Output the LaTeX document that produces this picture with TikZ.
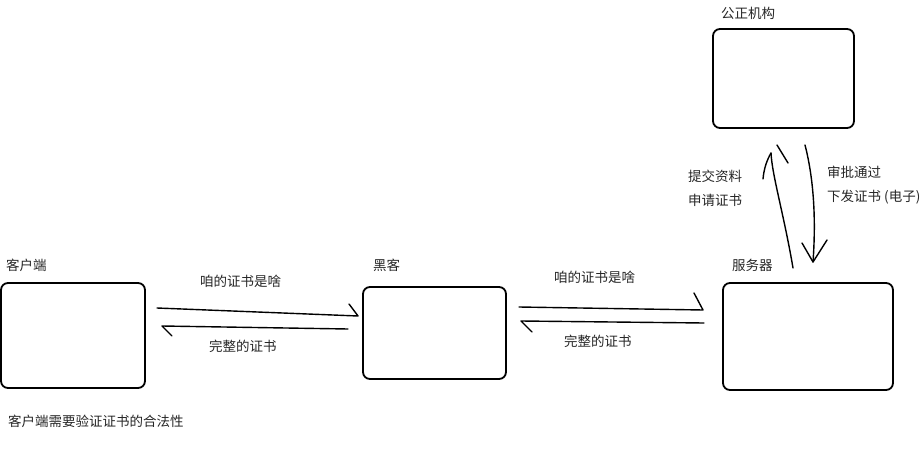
\documentclass[tikz,border=0pt]{standalone}
\usepackage{fontspec}
\setmainfont{Noto Sans CJK SC}
\begin{document}
\begin{tikzpicture}[x=1pt,y=-1pt,
  box/.style={draw=black,line width=1.8pt,rounded corners=7pt,inner sep=0pt},
  lbl/.style={anchor=west,inner sep=0pt,font=\fontsize{13.5pt}{16pt}\selectfont,text=black!85},
  pen/.style={draw=black,line width=1.4pt,line cap=round,line join=round}]
\useasboundingbox (0,0) rectangle (920,449);
% boxes
\node[box,minimum width=144pt,minimum height=105pt] (client) at (73,335.5) {};
\node[box,minimum width=143pt,minimum height=92pt] (hacker) at (434.5,333) {};
\node[box,minimum width=170pt,minimum height=107pt] (server) at (808,336.5) {};
\node[box,minimum width=141pt,minimum height=99pt] (notary) at (783.5,78.5) {};
% titles
\node[lbl] (tclient) at (6,265) {客户端};
\node[lbl] (thacker) at (373,265) {黑客};
\node[lbl] (tserver) at (732,265) {服务器};
\node[lbl] (tnotary) at (721,13) {公正机构};
% message labels
\node[lbl] (m1) at (200,281) {咱的证书是啥};
\node[lbl] (m2) at (209,346) {完整的证书};
\node[lbl] (m3) at (554,277) {咱的证书是啥};
\node[lbl] (m4) at (564,341) {完整的证书};
\node[lbl] (m5) at (688,176) {提交资料};
\node[lbl] (m6) at (688,200) {申请证书};
\node[lbl] (m7) at (827,172) {审批通过};
\node[lbl] (m8) at (827,197) {下发证书 (电子)};
\node[lbl] (note) at (8,421) {客户端需要验证证书的合法性};
% connector end points
\coordinate (a1s) at (157,308); \coordinate (a1e) at (358,316); \coordinate (a1h) at (349,304);
\coordinate (a2s) at (348,329); \coordinate (a2e) at (162,326); \coordinate (a2h) at (172,336);
\coordinate (a3s) at (519,307); \coordinate (a3e) at (703,310); \coordinate (a3h) at (694,293);
\coordinate (a4s) at (704,323); \coordinate (a4e) at (521,321); \coordinate (a4h) at (532,332);
\coordinate (a5s) at (793,268); \coordinate (a5e) at (771,153);
\coordinate (a5h) at (763,179); \coordinate (a5t1) at (777,145); \coordinate (a5t2) at (788,163);
\coordinate (a6s) at (805,145); \coordinate (a6e) at (813,262);
\coordinate (a6h1) at (802,243); \coordinate (a6h2) at (827,240);
% client -> hacker
\draw[pen] (a1s) -- (a1e) -- (a1h);
% hacker -> client
\draw[pen] (a2s) -- (a2e) -- (a2h);
% hacker -> server
\draw[pen] (a3s) -- (a3e) -- (a3h);
% server -> hacker
\draw[pen] (a4s) -- (a4e) -- (a4h);
% server -> notary
\draw[pen] (a5s) .. controls (784,215) and (772,175) .. (a5e);
\draw[pen] (a5h) .. controls (764,168) and (767,160) .. (a5e);
\draw[pen] (a5t1) -- (a5t2);
% notary -> server
\draw[pen] (a6s) .. controls (814,180) and (816,220) .. (a6e);
\draw[pen] (a6h1) -- (a6e) -- (a6h2);
\end{tikzpicture}
\end{document}
